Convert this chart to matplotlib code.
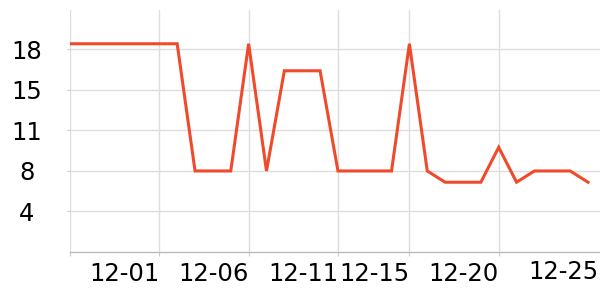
import numpy as np
import matplotlib
matplotlib.use("Agg")
import matplotlib.pyplot as plt

# daily values, 11-26 .. 12-25
dates = ["11-26", "11-27", "11-28", "11-29", "11-30", "12-01", "12-02", "12-03", "12-04", "12-05",
         "12-06", "12-07", "12-08", "12-09", "12-10", "12-11", "12-12", "12-13", "12-14", "12-15",
         "12-16", "12-17", "12-18", "12-19", "12-20", "12-21", "12-22", "12-23", "12-24", "12-25"]
values = [18.5, 18.5, 18.5, 18.5, 18.5, 18.5, 18.5, 7.2, 7.2, 7.2,
          18.5, 7.2, 16.1, 16.1, 16.1, 7.2, 7.2, 7.2, 7.2, 18.5,
          7.2, 6.2, 6.2, 6.2, 9.3, 6.2, 7.2, 7.2, 7.2, 6.2]

ytick_vals = [3.6, 7.2, 10.8, 14.4, 18.0]
ytick_labels = ["4", "8", "11", "15", "18"]
xtick_idx = [0, 5, 10, 15, 19, 24]
fs = 17.5

fig = plt.figure(figsize=(6, 3), dpi=100)
ax = fig.add_axes([70/600, 48/300, 530/600, 242/300])

x = np.arange(len(values))
ax.plot(x, values, color="#f04a2c", lw=2.2, solid_joinstyle="miter", zorder=3)

ax.set_xlim(0, 29.67)
ax.set_ylim(0, 21.5)

ax.set_xticks(xtick_idx)
ax.set_xticklabels(["" if i == 0 else dates[i] for i in xtick_idx], ha="right", fontsize=fs)
ax.set_yticks(ytick_vals)
ax.set_yticklabels(ytick_labels, ha="center", fontsize=fs)

ax.tick_params(axis="x", length=3, color="#cccccc", pad=4)
ax.tick_params(axis="y", length=2, color="#cccccc", pad=29)
ax.grid(True, color="#dddddd", lw=1)
ax.set_axisbelow(True)

for s in ["top", "right", "left"]:
    ax.spines[s].set_visible(False)
ax.spines["bottom"].set_color("#bbbbbb")
ax.spines["bottom"].set_linewidth(1)

# last date label sits at the right edge without a grid line
ax.text(0.997, -0.035, dates[-1], transform=ax.transAxes, ha="right", va="top", fontsize=fs)

fig.savefig("out.png", dpi=100)
